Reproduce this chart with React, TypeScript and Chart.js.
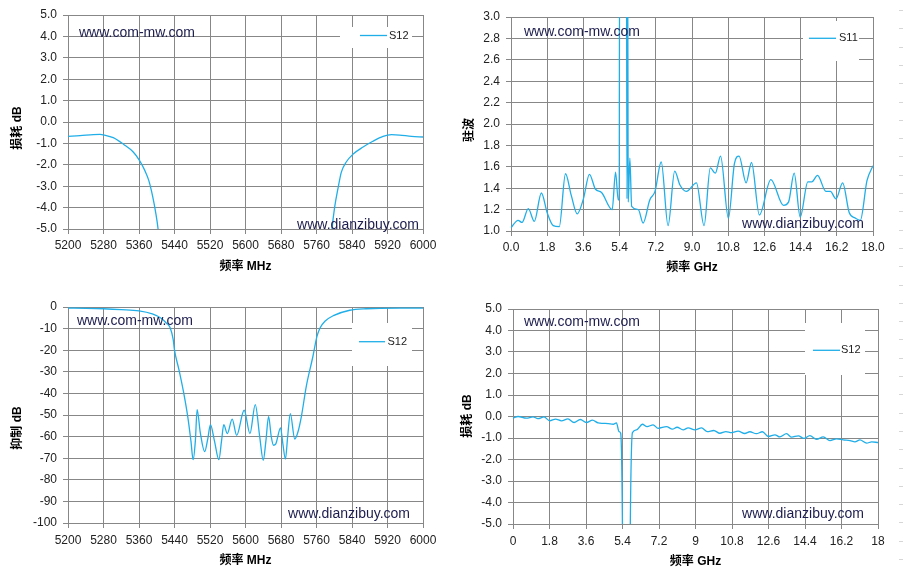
import React, { useEffect, useRef } from 'react';
import { Chart, registerables } from 'chart.js';

Chart.register(...registerables);

// ---------- tick values & labels ----------
const MHZ_TICKS = [5200, 5280, 5360, 5440, 5520, 5600, 5680, 5760, 5840, 5920, 6000];
const MHZ_LABELS = ['5200', '5280', '5360', '5440', '5520', '5600', '5680', '5760', '5840', '5920', '6000'];
const GHZ_TICKS = [0, 1.8, 3.6, 5.4, 7.2, 9, 10.8, 12.6, 14.4, 16.2, 18];
const GHZ_LABELS_A = ['0.0', '1.8', '3.6', '5.4', '7.2', '9.0', '10.8', '12.6', '14.4', '16.2', '18.0'];
const GHZ_LABELS_B = ['0', '1.8', '3.6', '5.4', '7.2', '9', '10.8', '12.6', '14.4', '16.2', '18'];
const DB5_TICKS = [-5, -4, -3, -2, -1, 0, 1, 2, 3, 4, 5];
const DB5_LABELS = ['-5.0', '-4.0', '-3.0', '-2.0', '-1.0', '0.0', '1.0', '2.0', '3.0', '4.0', '5.0'];
const VSWR_TICKS = [1.0, 1.2, 1.4, 1.6, 1.8, 2.0, 2.2, 2.4, 2.6, 2.8, 3.0];
const VSWR_LABELS = ['1.0', '1.2', '1.4', '1.6', '1.8', '2.0', '2.2', '2.4', '2.6', '2.8', '3.0'];
const REJ_TICKS = [-100, -90, -80, -70, -60, -50, -40, -30, -20, -10, 0];
const REJ_LABELS = ['-100', '-90', '-80', '-70', '-60', '-50', '-40', '-30', '-20', '-10', '0'];

// ---------- series ----------
// Top-left: passband insertion loss S12 (MHz, dB)
const PASS_FREQ = [5200, 5227, 5257, 5272, 5282, 5302, 5325, 5347, 5361, 5373, 5382, 5391, 5398, 5403, 5410, 5420,
  5780, 5790, 5795, 5801, 5809, 5816, 5827, 5842, 5865, 5887, 5910, 5929, 5947, 5974, 6000];
const PASS_S12 = [-0.67, -0.64, -0.59, -0.58, -0.61, -0.73, -1.04, -1.4, -1.79, -2.26, -2.73, -3.5, -4.28, -5.0, -6.5, -9,
  -9, -6.5, -5.0, -3.97, -3.04, -2.34, -1.87, -1.51, -1.17, -0.9, -0.67, -0.59, -0.61, -0.67, -0.7];

// Top-right: VSWR S11 (GHz)
const VSWR_FREQ = [0, 0.35, 0.55, 0.86, 1.16, 1.51, 1.8, 2.1, 2.4, 2.71,
  3.0, 3.29, 3.6, 3.9, 4.2, 4.5, 5.03, 5.2, 5.33, 5.38,
  5.40, 5.74, 5.77, 5.80, 5.83, 5.91, 6.0, 6.33, 6.57, 6.9,
  7.16, 7.47, 7.81, 8.14, 8.4, 8.72, 9.22, 9.6, 9.91, 10.16,
  10.42, 10.81, 11.11, 11.34, 11.69, 11.96, 12.35, 12.92, 13.55, 13.8,
  14.08, 14.38, 14.76, 14.96, 15.24, 15.66, 15.88, 16.16, 16.49, 16.82,
  17.12, 17.37, 17.7, 18];
const VSWR_S11 = [1.03, 1.10, 1.08, 1.21, 1.09, 1.355, 1.17, 1.05, 1.04, 1.535,
  1.33, 1.16, 1.3, 1.53, 1.39, 1.36, 1.2, 1.55, 1.29, 1.29,
  3.6, 3.6, 1.3, 3.6, 1.27, 1.68, 1.23, 1.2, 1.075, 1.29,
  1.37, 1.645, 1.05, 1.56, 1.43, 1.37, 1.45, 1.05, 1.59, 1.54,
  1.70, 1.12, 1.63, 1.70, 1.45, 1.64, 1.15, 1.48, 1.24, 1.27,
  1.54, 1.13, 1.46, 1.46, 1.52, 1.37, 1.37, 1.3, 1.45, 1.17,
  1.12, 1.1, 1.47, 1.61];

// Bottom-left: rejection S12 (MHz, dB)
const REJ_FREQ = [5200, 5240, 5280, 5320, 5360, 5390, 5410, 5422, 5430, 5437,
  5440, 5450, 5460, 5470, 5477, 5482, 5487, 5491, 5498, 5508,
  5515, 5521, 5530, 5540, 5546, 5551, 5559, 5570, 5580, 5597,
  5610, 5622, 5632, 5640, 5646, 5652, 5658, 5663, 5668, 5679,
  5684, 5690, 5695, 5701, 5711, 5718, 5726, 5737, 5752, 5761,
  5768, 5779, 5798, 5835, 5872, 5947, 6000];
const REJ_S12 = [-0.5, -0.6, -0.8, -1.2, -1.8, -3.2, -5.2, -7.5, -9.5, -15,
  -20, -29, -39, -51, -62, -70.7, -62, -47.5, -58, -67,
  -61, -54.5, -62, -70.7, -62, -54.5, -58.6, -51.9, -59.4, -47.8,
  -58.6, -45.2, -60, -71, -62, -50.6, -60, -64, -63.5, -56,
  -63, -70.4, -60, -49.4, -61.1, -58, -50.6, -36.7, -22.8, -13.6,
  -9.7, -6.6, -4, -1.5, -0.8, -0.5, -0.5];

// Bottom-right: wideband insertion loss S12 (GHz, dB)
const WIDE_FREQ = [0, 0.25, 0.66, 0.99, 1.23, 1.53, 1.81, 2.1, 2.39, 2.71,
  3.01, 3.32, 3.62, 3.92, 4.2, 4.45, 4.69, 4.94, 5.1, 5.23,
  5.31, 5.4, 5.45, 5.72, 5.78, 5.89, 6.09, 6.38, 6.61, 6.91,
  7.16, 7.57, 7.86, 8.09, 8.39, 8.64, 8.97, 9.3, 9.58, 9.9,
  10.2, 10.5, 10.78, 11.1, 11.43, 11.68, 12.0, 12.3, 12.59, 12.92,
  13.16, 13.49, 13.74, 14.07, 14.35, 14.64, 14.97, 15.3, 15.63, 15.96,
  16.29, 16.62, 16.86, 17.11, 17.44, 17.69, 18];
const WIDE_S12 = [-0.08, 0.0, -0.08, -0.02, -0.1, -0.02, -0.2, -0.12, -0.2, -0.11,
  -0.28, -0.14, -0.28, -0.17, -0.3, -0.32, -0.33, -0.36, -0.3, -0.7,
  -0.78, -5.5, -15, -15, -5.5, -0.75, -0.62, -0.36, -0.47, -0.39,
  -0.55, -0.47, -0.59, -0.5, -0.62, -0.53, -0.62, -0.53, -0.7, -0.65,
  -0.78, -0.7, -0.75, -0.68, -0.79, -0.71, -0.8, -0.71, -0.93, -0.85,
  -0.95, -0.8, -0.96, -0.9, -1.02, -0.89, -1.06, -0.95, -1.12, -1.04,
  -1.09, -1.12, -1.18, -1.09, -1.24, -1.18, -1.21];

// ---------- styles ----------
const LINE_COLOR = '#20AEE8';
const GRID_COLOR = '#878787';
const TICK_COLOR = '#222222';
const WM_COLOR = '#1c1c4e';
const LATIN = '"Liberation Sans", Arial, sans-serif';
const TITLE_FONT = '"Liberation Sans", "Noto Sans CJK SC", sans-serif';

type Spec = {
  left: number; top: number; width: number; height: number;
  padRight: number; padTop: number; padBottom: number;
  yWidth: number; xHeight: number; xLabelPad: number;
  xMin: number; xMax: number; xTicks: number[]; xLabels: string[];
  yMin: number; yMax: number; yTicks: number[]; yLabels: string[];
  xTitle: string; yTitle: string; yTitlePos: { x: number; y: number };
  label: string; xs: number[]; ys: number[];
  legend: { x: number; y: number; w: number; h: number; lx1: number; lx2: number; ly: number; tx: number };
  wm1: { x: number; y: number }; wm2: { x: number; y: number };
};

const SPECS: Spec[] = [
  {
    left: 0, top: 0, width: 451, height: 288,
    padRight: 28, padTop: 15, padBottom: 14, yWidth: 68, xHeight: 45, xLabelPad: 4,
    xMin: 5200, xMax: 6000, xTicks: MHZ_TICKS, xLabels: MHZ_LABELS,
    yMin: -5, yMax: 5, yTicks: DB5_TICKS, yLabels: DB5_LABELS,
    xTitle: '频率 MHz', yTitle: '损耗 dB', yTitlePos: { x: 17.5, y: 128 },
    label: 'S12', xs: PASS_FREQ, ys: PASS_S12,
    legend: { x: 340, y: 27, w: 72, h: 21, lx1: 360, lx2: 387, ly: 35.5, tx: 389 },
    wm1: { x: 79, y: 36.5 }, wm2: { x: 419, y: 228.5 },
  },
  {
    left: 451, top: 0, width: 452, height: 288,
    padRight: 30, padTop: 17, padBottom: 13, yWidth: 60, xHeight: 44, xLabelPad: 4,
    xMin: 0, xMax: 18, xTicks: GHZ_TICKS, xLabels: GHZ_LABELS_A,
    yMin: 1, yMax: 3, yTicks: VSWR_TICKS, yLabels: VSWR_LABELS,
    xTitle: '频率 GHz', yTitle: '驻波', yTitlePos: { x: 470, y: 130 },
    label: 'S11', xs: VSWR_FREQ, ys: VSWR_S11,
    legend: { x: 803, y: 21, w: 56, h: 40, lx1: 809, lx2: 836, ly: 38.3, tx: 839 },
    wm1: { x: 524, y: 36 }, wm2: { x: 864, y: 228.3 },
  },
  {
    left: 0, top: 288, width: 451, height: 289,
    padRight: 28, padTop: 19, padBottom: 9, yWidth: 68, xHeight: 45, xLabelPad: 5,
    xMin: 5200, xMax: 6000, xTicks: MHZ_TICKS, xLabels: MHZ_LABELS,
    yMin: -100, yMax: 0, yTicks: REJ_TICKS, yLabels: REJ_LABELS,
    xTitle: '频率 MHz', yTitle: '抑制 dB', yTitlePos: { x: 18, y: 428 },
    label: 'S12', xs: REJ_FREQ, ys: REJ_S12,
    legend: { x: 352, y: 323, w: 60, h: 43, lx1: 359, lx2: 385, ly: 341.7, tx: 387.5 },
    wm1: { x: 77, y: 325 }, wm2: { x: 410, y: 517.7 },
  },
  {
    left: 451, top: 288, width: 452, height: 289,
    padRight: 25, padTop: 21, padBottom: 8, yWidth: 62, xHeight: 45, xLabelPad: 5,
    xMin: 0, xMax: 18, xTicks: GHZ_TICKS, xLabels: GHZ_LABELS_B,
    yMin: -5, yMax: 5, yTicks: DB5_TICKS, yLabels: DB5_LABELS,
    xTitle: '频率 GHz', yTitle: '损耗 dB', yTitlePos: { x: 467.5, y: 416 },
    label: 'S12', xs: WIDE_FREQ, ys: WIDE_S12,
    legend: { x: 805, y: 323, w: 60, h: 52, lx1: 813, lx2: 840, ly: 350.3, tx: 841 },
    wm1: { x: 524, y: 326 }, wm2: { x: 864, y: 518.3 },
  },
];

function makeOverlay(spec: Spec) {
  return {
    id: 'overlay',
    afterDraw(chart: any) {
      const ctx = chart.ctx as CanvasRenderingContext2D;
      const ox = spec.left, oy = spec.top;
      const L = spec.legend;
      ctx.save();
      // legend box
      ctx.fillStyle = '#ffffff';
      ctx.fillRect(L.x - ox, L.y - oy, L.w, L.h);
      ctx.strokeStyle = LINE_COLOR;
      ctx.lineWidth = 1.3;
      ctx.beginPath();
      ctx.moveTo(L.lx1 - ox, L.ly - oy);
      ctx.lineTo(L.lx2 - ox, L.ly - oy);
      ctx.stroke();
      ctx.fillStyle = TICK_COLOR;
      ctx.font = `11px ${LATIN}`;
      ctx.textAlign = 'left';
      ctx.textBaseline = 'middle';
      ctx.fillText(chart.data.datasets[0].label, L.tx - ox, L.ly - oy);

      // watermarks
      ctx.font = `14px ${LATIN}`;
      ctx.fillStyle = WM_COLOR;
      ctx.textBaseline = 'alphabetic';
      ctx.textAlign = 'left';
      ctx.fillText('www.com-mw.com', spec.wm1.x - ox, spec.wm1.y - oy);
      ctx.textAlign = 'right';
      ctx.fillText('www.dianzibuy.com', spec.wm2.x - ox, spec.wm2.y - oy);

      // y-axis title (rotated)
      ctx.translate(spec.yTitlePos.x - ox, spec.yTitlePos.y - oy);
      ctx.rotate(-Math.PI / 2);
      ctx.font = `bold 12px ${TITLE_FONT}`;
      ctx.fillStyle = '#000';
      ctx.textAlign = 'center';
      ctx.textBaseline = 'middle';
      ctx.fillText(spec.yTitle, 0, 0);
      ctx.restore();
    },
  };
}

function buildConfig(spec: Spec): any {
  const lookup = (ticks: number[], labels: string[]) => (v: any) => {
    const i = ticks.indexOf(Number(v));
    return i >= 0 ? labels[i] : '';
  };
  return {
    type: 'line',
    data: {
      datasets: [{
        label: spec.label,
        data: spec.xs.map((x, i) => ({ x, y: spec.ys[i] })),
        borderColor: LINE_COLOR,
        borderWidth: 1.3,
        pointRadius: 0,
        pointHoverRadius: 0,
        fill: false,
        cubicInterpolationMode: 'monotone',
      }],
    },
    options: {
      animation: false,
      responsive: true,
      maintainAspectRatio: false,
      events: [],
      layout: { padding: { left: 0, right: spec.padRight, top: spec.padTop, bottom: spec.padBottom } },
      plugins: { legend: { display: false }, tooltip: { enabled: false }, title: { display: false } },
      scales: {
        x: {
          type: 'linear',
          min: spec.xMin, max: spec.xMax,
          afterBuildTicks: (s: any) => { s.ticks = spec.xTicks.map((v) => ({ value: v })); },
          afterFit: (s: any) => { s.height = spec.xHeight; },
          ticks: {
            autoSkip: false, maxRotation: 0, minRotation: 0,
            padding: spec.xLabelPad, color: TICK_COLOR,
            font: { family: LATIN, size: 12 },
            callback: lookup(spec.xTicks, spec.xLabels),
          },
          grid: { color: GRID_COLOR, lineWidth: 1, tickLength: 5, drawTicks: true },
          border: { color: GRID_COLOR, width: 1 },
          title: {
            display: true, text: spec.xTitle, color: '#000',
            font: { family: TITLE_FONT, size: 12, weight: 'bold' },
            padding: { top: 0, bottom: 0 },
          },
        },
        y: {
          type: 'linear',
          min: spec.yMin, max: spec.yMax,
          afterBuildTicks: (s: any) => { s.ticks = spec.yTicks.map((v) => ({ value: v })); },
          afterFit: (s: any) => { s.width = spec.yWidth; },
          ticks: {
            autoSkip: false, padding: 6, color: TICK_COLOR,
            font: { family: LATIN, size: 12 },
            callback: lookup(spec.yTicks, spec.yLabels),
          },
          grid: { color: GRID_COLOR, lineWidth: 1, tickLength: 5, drawTicks: true },
          border: { color: GRID_COLOR, width: 1 },
          title: { display: false },
        },
      },
    },
    plugins: [makeOverlay(spec)],
  };
}

function Panel({ spec }: { spec: Spec }) {
  const ref = useRef<HTMLCanvasElement>(null);
  useEffect(() => {
    if (!ref.current) return;
    const chart = new Chart(ref.current, buildConfig(spec));
    return () => chart.destroy();
  }, [spec]);
  return (
    <div style={{ position: 'absolute', left: spec.left, top: spec.top, width: spec.width, height: spec.height }}>
      <canvas ref={ref} />
    </div>
  );
}

const STUB_ROWS = Array.from({ length: 32 }, (_, k) => k);

export default function App() {
  return (
    <div style={{ position: 'absolute', left: 0, top: 0, width: 903, height: 577, background: '#ffffff', overflow: 'hidden' }}>
      {SPECS.map((s, i) => <Panel key={i} spec={s} />)}
      {STUB_ROWS.map((k) => (
        <div key={'st' + k} style={{ position: 'absolute', left: 899, top: Math.round(10 + 18.3 * k), width: 4, height: 1, background: '#d6d6d6' }} />
      ))}
    </div>
  );
}
